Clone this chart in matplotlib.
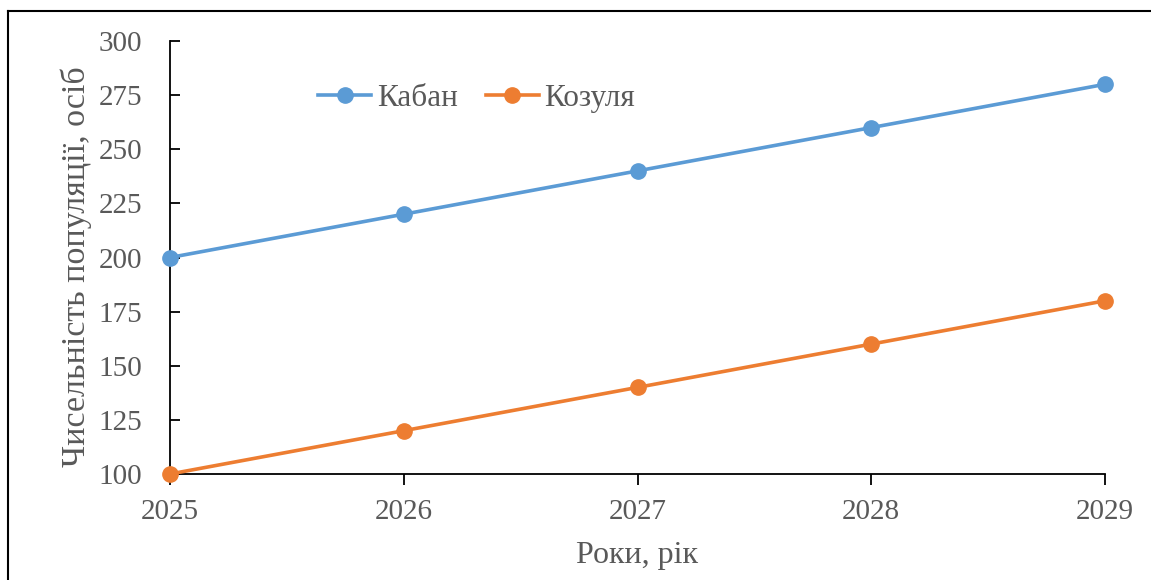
import matplotlib
matplotlib.use("Agg")
import matplotlib.pyplot as plt
from matplotlib.lines import Line2D

years = [2025, 2026, 2027, 2028, 2029]
boar = [200, 220, 240, 260, 280]
roe_deer = [100, 120, 140, 160, 180]
series_names = ["Кабан", "Козуля"]
y_ticks = [100, 125, 150, 175, 200, 225, 250, 275, 300]

plt.rcParams["font.family"] = ["Liberation Serif", "DejaVu Serif"]
text_color = "#595959"
W, H = 1151, 580

fig = plt.figure(figsize=(W / 100, H / 100), dpi=100)
ax = fig.add_axes([170 / W, 1 - 474 / H, (1105 - 170) / W, (474 - 41) / H])

ax.plot(years, boar, color="#5B9BD5", lw=2.6, marker="o", ms=11,
        label=series_names[0], clip_on=False, zorder=3)
ax.plot(years, roe_deer, color="#ED7D31", lw=2.6, marker="o", ms=11,
        label=series_names[1], clip_on=False, zorder=3)

ax.set_xlim(years[0], years[-1])
ax.set_ylim(y_ticks[0], y_ticks[-1])
ax.set_xticks(years)
ax.set_yticks(y_ticks)

for side in ("top", "right"):
    ax.spines[side].set_visible(False)
for side in ("left", "bottom"):
    ax.spines[side].set_linewidth(1.3)
    ax.spines[side].set_color("black")

ax.tick_params(axis="y", direction="in", length=7, width=1.3, pad=20,
               labelsize=21, labelcolor=text_color)
ax.tick_params(axis="x", direction="out", length=8, width=1.3, pad=10,
               labelsize=21, labelcolor=text_color)

# axis titles
fig.text(637 / W, 1 - 555 / H, "Роки, рік", fontsize=23, color=text_color,
         ha="center", va="center")
fig.text(76 / W, 1 - 267 / H, "Чисельність популяції, осіб", fontsize=24.5,
         color=text_color, rotation=90, ha="center", va="center")

leg = ax.legend(loc="center", bbox_to_anchor=(0.328, 0.868), ncol=2,
                frameon=False, fontsize=22.5, handlelength=1.7,
                handletextpad=0.17, columnspacing=0.9)
for t in leg.get_texts():
    t.set_color(text_color)

# outer frame (left and top edges)
fig.add_artist(Line2D([8 / W, 8 / W], [0, 1 - 11 / H],
                      transform=fig.transFigure, color="black", lw=1.5))
fig.add_artist(Line2D([8 / W, 1], [1 - 11 / H, 1 - 11 / H],
                      transform=fig.transFigure, color="black", lw=1.5))

fig.savefig("out.png", dpi=100)
